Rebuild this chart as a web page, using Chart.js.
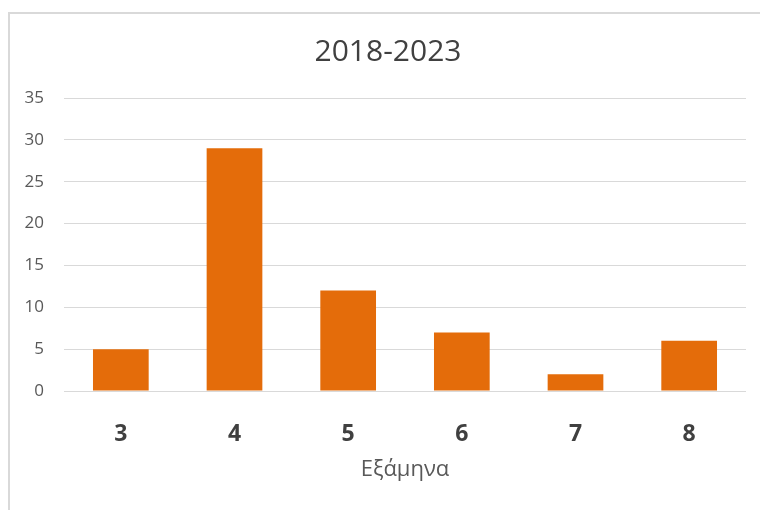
<!DOCTYPE html>
<html>
<head>
<meta charset="utf-8">
<script src="https://cdn.jsdelivr.net/npm/chart.js@4"></script>
<style>
  html, body { margin: 0; padding: 0; background: #ffffff; }
  #wrap { position: relative; width: 760px; height: 510px; overflow: hidden; }
  #frame {
    position: absolute; left: 8px; top: 12px; width: 800px; height: 600px;
    border-left: 2px solid #d9d9d9; border-top: 2px solid #d9d9d9;
  }
  #chart { position: absolute; left: 0; top: 0; }
</style>
</head>
<body>
<div id="wrap">
  <div id="frame"></div>
  <canvas id="chart" width="760" height="510"></canvas>
</div>
<script>
// εξάμηνα και πλήθος ανά εξάμηνο
const semesters = ["3", "4", "5", "6", "7", "8"];
const counts = [5, 29, 12, 7, 2, 6];
const yTicks = [0, 5, 10, 15, 20, 25, 30, 35];

const chartTitle = "2018-2023";
const xTitle = "Εξάμηνα";

const barColor = "#e46c0a";
const gridColor = "#d9d9d9";
const textColor = "#595959";

// ο τίτλος κεντράρεται στο πλαίσιο και όχι σε όλο τον καμβά
const shiftTitle = {
  id: "shiftTitle",
  afterLayout(chart) {
    if (chart.titleBlock) chart.titleBlock.left = 30;
  }
};

const ctx = document.getElementById("chart").getContext("2d");
new Chart(ctx, {
  type: "bar",
  data: {
    labels: semesters,
    datasets: [{
      data: counts,
      backgroundColor: barColor,
      borderWidth: 0,
      categoryPercentage: 1,
      barPercentage: 0.49
    }]
  },
  options: {
    responsive: false,
    animation: false,
    layout: { padding: { left: 0, right: 14, top: 0, bottom: 0 } },
    plugins: {
      legend: { display: false },
      tooltip: { enabled: false },
      title: {
        display: true,
        text: chartTitle,
        color: "#404040",
        font: { family: "'Open Sans', sans-serif", size: 30, weight: "normal", lineHeight: 1.2 },
        padding: { top: 34, bottom: 28 }
      }
    },
    scales: {
      x: {
        grid: { display: false, drawTicks: false },
        border: { display: false },
        ticks: {
          color: "#404040",
          padding: 30,
          font: { family: "'Open Sans', sans-serif", size: 23, weight: "bold" }
        },
        title: {
          display: true,
          text: xTitle,
          color: textColor,
          font: { family: "'Open Sans', sans-serif", size: 22 },
          padding: { top: 0, bottom: 27 }
        },
        afterFit: scale => { scale.height = 119; }
      },
      y: {
        min: 0,
        max: yTicks[yTicks.length - 1],
        afterBuildTicks: scale => { scale.ticks = yTicks.map(v => ({ value: v })); },
        grid: { color: gridColor, lineWidth: 1, drawTicks: false },
        border: { display: false },
        ticks: {
          color: textColor,
          padding: 20,
          font: { family: "'Open Sans', sans-serif", size: 17 }
        },
        afterFit: scale => { scale.width = 64; }
      }
    }
  },
  plugins: [shiftTitle]
});
</script>
</body>
</html>
